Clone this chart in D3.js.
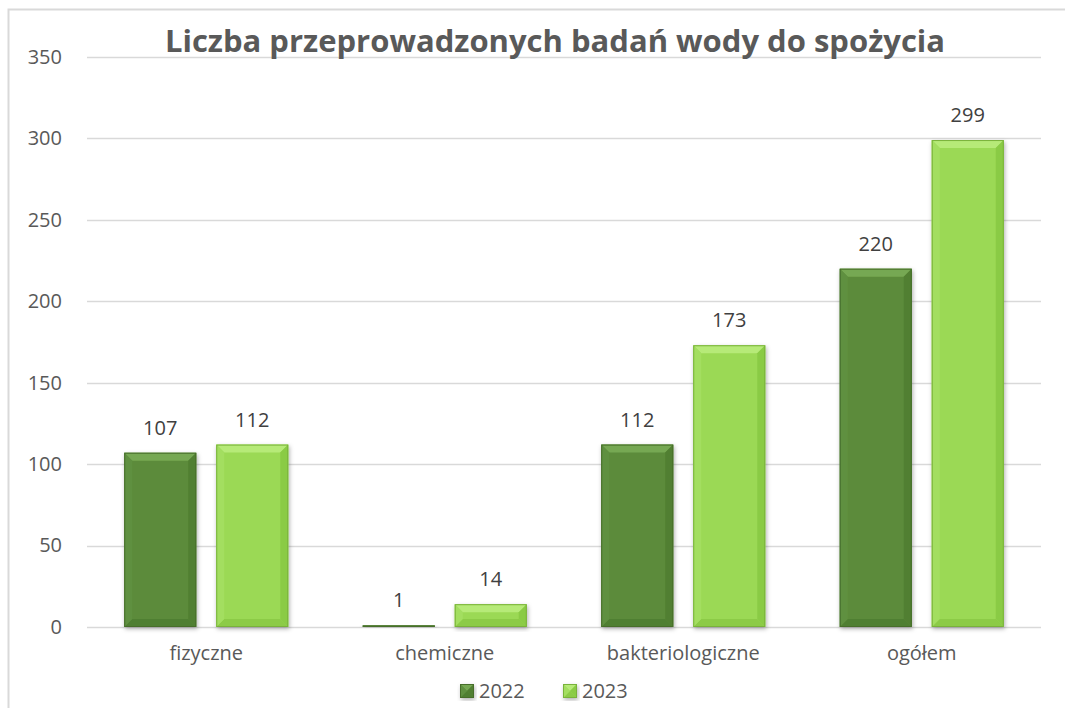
<!DOCTYPE html>
<html>
<head>
<meta charset="utf-8">
<script src="https://cdn.jsdelivr.net/npm/d3@7"></script>
<style>
  body { margin: 0; background: #fff; }
  svg { display: block; font-family: "Open Sans", "Noto Sans", sans-serif; }
</style>
</head>
<body>
<svg width="1065" height="708"></svg>
<script>
var categories = ["fizyczne", "chemiczne", "bakteriologiczne", "ogółem"];
var years = ["2022", "2023"];
var values2022 = [107, 1, 112, 220];
var values2023 = [112, 14, 173, 299];
var yTicks = [0, 50, 100, 150, 200, 250, 300, 350];

var svgWidth = 1065, svgHeight = 708;
var margin = { top: 57, right: 24, bottom: 81, left: 87 };
var width = svgWidth - margin.left - margin.right;
var height = svgHeight - margin.top - margin.bottom;

var svg = d3.select("svg");

// chart border (cropped on right/bottom)
svg.append("path")
  .attr("d", "M8.5,708 V9.5 H1065")
  .attr("fill", "none")
  .attr("stroke", "#d9d9d9")
  .attr("stroke-width", 2);

var defs = svg.append("defs");
var f = defs.append("filter").attr("id", "shadow")
  .attr("x", "-20%").attr("y", "-20%").attr("width", "140%").attr("height", "140%");
f.append("feDropShadow").attr("dx", 1).attr("dy", 2).attr("stdDeviation", 2)
  .attr("flood-color", "#000").attr("flood-opacity", 0.3);

var g = svg.append("g")
  .attr("transform", "translate(" + margin.left + "," + margin.top + ")");

var x = d3.scaleBand().domain(categories).range([0, width]);
var y = d3.scaleLinear().domain([0, 350]).range([height, 0]);

// gridlines
g.append("g")
  .selectAll("line")
  .data(yTicks)
  .enter().append("line")
  .attr("x1", 0).attr("x2", width)
  .attr("y1", function(d) { return Math.round(y(d)) + 0.5; })
  .attr("y2", function(d) { return Math.round(y(d)) + 0.5; })
  .attr("stroke", "#d9d9d9")
  .attr("stroke-width", 1.5);

// y axis labels
var yAxis = g.append("g")
  .call(d3.axisLeft(y).tickValues(yTicks).tickSize(0).tickPadding(25));
yAxis.select(".domain").remove();
yAxis.selectAll("text")
  .attr("fill", "#595959")
  .style("font-size", "20px")
  .style("font-family", "'Open Sans', sans-serif");

// x axis labels
var xAxis = g.append("g")
  .attr("transform", "translate(0," + height + ")")
  .call(d3.axisBottom(x).tickSize(0).tickPadding(19));
xAxis.select(".domain").remove();
xAxis.selectAll("text")
  .attr("fill", "#595959")
  .style("font-size", "20px")
  .style("font-family", "'Open Sans', sans-serif");

var barW = 72, gap = 20;
var series = [
  { name: "2022", values: values2022, base: "#5b8b3a", top: "#76a852", bottom: "#4f7f31", side: "#517f32", light: "#5f9040", edge: "#466e2b" },
  { name: "2023", values: values2023, base: "#9bd955", top: "#b6ea78", bottom: "#8ccb46", side: "#8acb45", light: "#a3de60", edge: "#79b23a" }
];

function bevelBar(sel, x0, y0, w, h, s) {
  var b = Math.min(8, h / 2, w / 2);
  var bar = sel.append("g").attr("filter", "url(#shadow)");
  bar.append("rect").attr("x", x0).attr("y", y0).attr("width", w).attr("height", h).attr("fill", s.base);
  bar.append("polygon").attr("fill", s.top)
    .attr("points", [[x0, y0], [x0 + w, y0], [x0 + w - b, y0 + b], [x0 + b, y0 + b]].join(" "));
  bar.append("polygon").attr("fill", s.bottom)
    .attr("points", [[x0, y0 + h], [x0 + w, y0 + h], [x0 + w - b, y0 + h - b], [x0 + b, y0 + h - b]].join(" "));
  bar.append("polygon").attr("fill", s.light)
    .attr("points", [[x0, y0], [x0 + b, y0 + b], [x0 + b, y0 + h - b], [x0, y0 + h]].join(" "));
  bar.append("polygon").attr("fill", s.side)
    .attr("points", [[x0 + w, y0], [x0 + w - b, y0 + b], [x0 + w - b, y0 + h - b], [x0 + w, y0 + h]].join(" "));
  bar.append("rect").attr("x", x0 + 0.5).attr("y", y0 + 0.5)
    .attr("width", Math.max(0, w - 1)).attr("height", Math.max(0, h - 1))
    .attr("fill", "none").attr("stroke", s.edge).attr("stroke-width", 1);
}

series.forEach(function(s, si) {
  categories.forEach(function(c, i) {
    var v = s.values[i];
    var cx = x(c) + x.bandwidth() / 2;
    var x0 = si === 0 ? cx - gap / 2 - barW : cx + gap / 2;
    var y0 = y(v);
    var h = y(0) - y0;
    bevelBar(g, x0, y0, barW, h, s);
    g.append("text")
      .attr("x", x0 + barW / 2)
      .attr("y", y0 - 18)
      .attr("text-anchor", "middle")
      .attr("fill", "#404040")
      .style("font-size", "20px")
      .text(v);
  });
});

// title
svg.append("text")
  .attr("x", 555)
  .attr("y", 52)
  .attr("text-anchor", "middle")
  .attr("fill", "#595959")
  .style("font-size", "31px")
  .style("font-weight", "bold")
  .text("Liczba przeprowadzonych badań wody do spożycia");

// legend
var legend = svg.append("g").attr("transform", "translate(460,684)");
var lx = [0, 103];
series.forEach(function(s, i) {
  var lg = legend.append("g").attr("transform", "translate(" + lx[i] + ",0)");
  bevelBar(lg, 0, 0, 14, 14, s);
  lg.append("text").attr("x", 19).attr("y", 14)
    .attr("fill", "#595959")
    .style("font-size", "20px")
    .text(s.name);
});
</script>
</body>
</html>
